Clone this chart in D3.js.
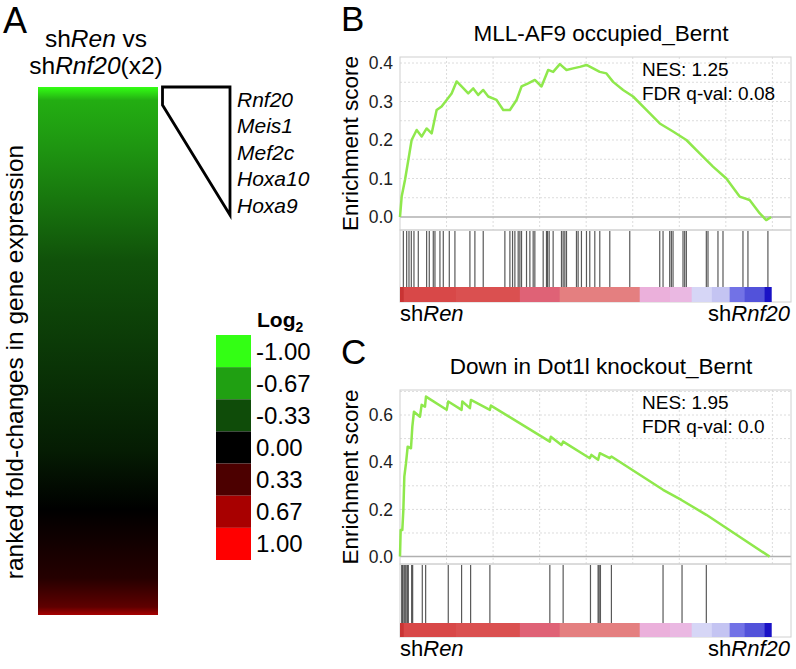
<!DOCTYPE html>
<html>
<head>
<meta charset="utf-8">
<script src="https://cdn.jsdelivr.net/npm/d3@7"></script>
<style>
  body { margin: 0; background: #fff; }
  svg { font-family: "Liberation Sans", Arial, sans-serif; }
</style>
</head>
<body>
<svg id="fig" width="796" height="669"></svg>
<script>
// ---- data ----
var genes = ["Rnf20", "Meis1", "Mef2c", "Hoxa10", "Hoxa9"];
var legendValues = [-1.00, -0.67, -0.33, 0.00, 0.33, 0.67, 1.00];
var legendColors = ["#33ff14", "#20a012", "#0f4c09", "#000000", "#4c0000", "#a80000", "#ff0000"];
// heatmap: position down the ranked list (0..1) and log2 value
var heatPos = [0, 0.025, 0.12, 0.33, 0.69, 0.8, 0.93, 0.985, 1];
var heatVal = [-1, -0.72, -0.62, -0.35, -0.12, 0, 0.16, 0.4, 0.67];

var nGenes = 7975;
// ranked list metric colour bar (start rank of each block)
var barStart = [0, 80, 1200, 2575, 3430, 5150, 5800, 6266, 6700, 7082, 7404, 7833];
var barColors = ["#c93434", "#d84848", "#da5050", "#df6276", "#e47f80", "#ebb0db", "#eab8e2",
                 "#d6d6f6", "#c4c4f2", "#7272e6", "#5252da", "#1a12c6"];

// B: MLL-AF9 occupied_Bernt
var esRankB = [0, 36, 107, 179, 250, 358, 465, 572, 680, 787, 894, 1002, 1109, 1216, 1323, 1466, 1574,
  1681, 1788, 1896, 2074, 2218, 2361, 2504, 2611, 2754, 2897, 3040, 3183, 3290, 3434, 3577, 3720, 3863,
  4006, 4149, 4292, 4435, 4578, 4793, 5007, 5293, 5580, 5866, 6152, 6438, 6724, 7011, 7296, 7511, 7726,
  7868, 7975];
var esValB = [0, 0.053, 0.096, 0.148, 0.2, 0.226, 0.209, 0.23, 0.217, 0.278, 0.287, 0.304, 0.321, 0.352,
  0.339, 0.321, 0.334, 0.317, 0.33, 0.313, 0.304, 0.278, 0.278, 0.304, 0.339, 0.347, 0.356, 0.339, 0.382,
  0.377, 0.397, 0.382, 0.386, 0.39, 0.395, 0.386, 0.377, 0.373, 0.351, 0.33, 0.313, 0.278, 0.243, 0.222,
  0.2, 0.165, 0.131, 0.1, 0.053, 0.044, 0.01, -0.008, 0];
var hitsB = [72, 143, 193, 243, 300, 393, 572, 629, 715, 751, 858, 930, 1059, 1180, 1502, 1609, 1788,
  2253, 2361, 2418, 2468, 2539, 2575, 2611, 2718, 2790, 2861, 2897, 3076, 3147, 3169, 3205, 3290, 3469,
  3505, 3541, 3577, 3791, 3827, 3898, 4006, 4077, 4185, 4292, 4507, 4936, 5580, 5651, 5794, 5830, 5866,
  6080, 6116, 6152, 6581, 6617, 6831, 6939, 7368, 7475, 7904];

// C: Down in Dot1l knockout_Bernt
var esRankC = [0, 14, 50, 72, 93, 129, 165, 236, 265, 300, 429, 465, 537, 558, 1002, 1037, 1323, 1338,
  1502, 1524, 1931, 1953, 3219, 3240, 3469, 3505, 4077, 4113, 4256, 4292, 4507, 4542, 5651, 6045, 6581, 7940];
var esValC = [0, 0.113, 0.113, 0.198, 0.339, 0.396, 0.466, 0.459, 0.551, 0.614, 0.593, 0.643, 0.635,
  0.678, 0.622, 0.657, 0.622, 0.657, 0.629, 0.664, 0.622, 0.64, 0.487, 0.508, 0.473, 0.487, 0.417, 0.431,
  0.41, 0.438, 0.417, 0.424, 0.283, 0.24, 0.177, 0];
var hitsC = [36, 57, 86, 107, 129, 157, 179, 250, 272, 479, 551, 1037, 1323, 1517, 1931, 3219, 3505,
  4092, 4256, 4278, 4306, 4542, 5651, 6059, 6581];

var svg = d3.select("#fig");

// ---- panel A ----
var heatColor = d3.scaleLinear().domain(legendValues).range(legendColors);

svg.append("text").attr("x", 3).attr("y", 33).attr("font-size", 36).text("A");

var hdr = svg.append("text").attr("x", 96).attr("y", 47).attr("font-size", 24.5).attr("text-anchor", "middle");
hdr.append("tspan").text("sh");
hdr.append("tspan").attr("font-style", "italic").text("Ren");
hdr.append("tspan").text(" vs");
var hdr2 = svg.append("text").attr("x", 96).attr("y", 74).attr("font-size", 24.5).attr("text-anchor", "middle");
hdr2.append("tspan").text("sh");
hdr2.append("tspan").attr("font-style", "italic").text("Rnf20");
hdr2.append("tspan").text("(x2)");

var grad = svg.append("defs").append("linearGradient").attr("id", "heat")
  .attr("x1", 0).attr("y1", 0).attr("x2", 0).attr("y2", 1);
grad.selectAll("stop").data(heatPos).enter().append("stop")
  .attr("offset", function(d) { return d; })
  .attr("stop-color", function(d, i) { return heatColor(heatVal[i]); });

svg.append("rect").attr("x", 38).attr("y", 87).attr("width", 120).attr("height", 528)
  .attr("fill", "url(#heat)");

svg.append("text").attr("transform", "translate(23,362) rotate(-90)")
  .attr("font-size", 24.5).attr("text-anchor", "middle")
  .text("ranked fold-changes in gene expression");

svg.append("path").attr("d", "M162.5,87 L230,87 L230,215 L162.5,105 Z")
  .attr("fill", "none").attr("stroke", "#000").attr("stroke-width", 2.8)
  .attr("stroke-linejoin", "miter");

svg.selectAll("text.gene").data(genes).enter().append("text").attr("class", "gene")
  .attr("x", 237).attr("y", function(d, i) { return 107 + i * 26.4; })
  .attr("font-size", 21).attr("font-style", "italic").text(function(d) { return d; });

// legend
var lg = svg.append("text").attr("x", 257).attr("y", 327).attr("font-size", 21).attr("font-weight", "bold");
lg.append("tspan").text("Log");
lg.append("tspan").attr("font-size", 14).attr("dy", 5).text("2");

var sw = d3.scaleBand().domain(legendValues).range([335, 560]);
svg.selectAll("rect.sw").data(legendValues).enter().append("rect").attr("class", "sw")
  .attr("x", 216).attr("y", function(d) { return sw(d); })
  .attr("width", 35).attr("height", sw.bandwidth())
  .attr("fill", function(d, i) { return legendColors[i]; });
svg.selectAll("text.swl").data(legendValues).enter().append("text").attr("class", "swl")
  .attr("x", 256).attr("y", function(d) { return sw(d) + sw.bandwidth() / 2 + 8.5; })
  .attr("font-size", 24).text(function(d) { return d3.format(".2f")(d).replace("−", "-"); });

// ---- GSEA panels ----
var x = d3.scaleLinear().domain([0, 8400]).range([400, 791]);

function gsea(o) {
  var g = svg.append("g");
  var y = d3.scaleLinear().domain(o.yDomain).range([o.esBottom, o.top]);

  g.append("text").attr("x", 341).attr("y", o.top - 26).attr("font-size", 35).text(o.letter);
  g.append("text").attr("x", 601).attr("y", o.top - 16).attr("font-size", 22.5)
    .attr("text-anchor", "middle").text(o.title);

  // grid
  g.selectAll("line.hg").data(d3.range(o.gridStep, o.yDomain[1], o.gridStep)).enter().append("line")
    .attr("x1", x(0)).attr("x2", x(8400))
    .attr("y1", function(d) { return y(d); }).attr("y2", function(d) { return y(d); })
    .attr("stroke", "#dcdcdc").attr("stroke-dasharray", "2,2");
  g.selectAll("line.vg").data(d3.range(1000, 8400, 1000)).enter().append("line")
    .attr("x1", function(d) { return x(d); }).attr("x2", function(d) { return x(d); })
    .attr("y1", o.top).attr("y2", o.esBottom)
    .attr("stroke", "#dcdcdc").attr("stroke-dasharray", "2,2");
  g.append("line").attr("x1", x(0)).attr("x2", x(8400)).attr("y1", y(0)).attr("y2", y(0))
    .attr("stroke", "#b0b0b0").attr("stroke-width", 1.5);

  // frames
  g.append("rect").attr("x", x(0)).attr("y", o.top).attr("width", x(8400) - x(0))
    .attr("height", o.esBottom - o.top).attr("fill", "none").attr("stroke", "#d0d0d0");
  g.append("rect").attr("x", x(0)).attr("y", o.esBottom).attr("width", x(8400) - x(0))
    .attr("height", o.barBottom - o.esBottom).attr("fill", "none").attr("stroke", "#d0d0d0");

  // axis
  var ax = g.append("g").attr("transform", "translate(" + x(0) + ",0)")
    .call(d3.axisLeft(y).tickValues(o.ticks).tickFormat(d3.format(".1f")).tickSize(0).tickPadding(7));
  ax.select(".domain").remove();
  ax.selectAll("text").attr("font-size", 17.5).attr("fill", "#222")
    .attr("font-family", "Liberation Sans, Arial, sans-serif");

  g.append("text").attr("transform", "translate(" + 358 + "," + (o.top + o.esBottom) / 2 + ") rotate(-90)")
    .attr("font-size", 22.5).attr("text-anchor", "middle").text("Enrichment score");

  // hits
  g.selectAll("line.hit").data(o.hits).enter().append("line")
    .attr("x1", function(d) { return x(d); }).attr("x2", function(d) { return x(d); })
    .attr("y1", o.esBottom + 1).attr("y2", o.hitBottom)
    .attr("stroke", "#222").attr("stroke-opacity", 0.75).attr("stroke-width", 1.2);

  // colour bar
  g.selectAll("rect.cb").data(barStart).enter().append("rect")
    .attr("x", function(d) { return x(d); })
    .attr("width", function(d, i) { return x(i < barStart.length - 1 ? barStart[i + 1] : nGenes) - x(d) + 0.5; })
    .attr("y", o.hitBottom).attr("height", o.barBottom - o.hitBottom)
    .attr("fill", function(d, i) { return barColors[i]; });

  // ES line
  var pts = o.rank.map(function(r, i) { return [r, o.es[i]]; });
  g.append("path").datum(pts)
    .attr("d", d3.line().x(function(d) { return x(d[0]); }).y(function(d) { return y(d[1]); }))
    .attr("fill", "none").attr("stroke", "#8fe84c").attr("stroke-width", 2.5)
    .attr("stroke-linejoin", "round");

  g.append("text").attr("x", 642).attr("y", o.top + 19).attr("font-size", 19).text(o.nes);
  g.append("text").attr("x", 642).attr("y", o.top + 43).attr("font-size", 19).text(o.fdr);

  var l1 = g.append("text").attr("x", 400).attr("y", o.barBottom + 19).attr("font-size", 22);
  l1.append("tspan").text("sh");
  l1.append("tspan").attr("font-style", "italic").text("Ren");
  var l2 = g.append("text").attr("x", 790).attr("y", o.barBottom + 19).attr("font-size", 22)
    .attr("text-anchor", "end");
  l2.append("tspan").text("sh");
  l2.append("tspan").attr("font-style", "italic").text("Rnf20");
}

gsea({
  letter: "B", title: "MLL-AF9 occupied_Bernt", top: 57, esBottom: 230, hitBottom: 287, barBottom: 302,
  yDomain: [-0.0338, 0.4156], gridStep: 0.05, ticks: [0, 0.1, 0.2, 0.3, 0.4],
  rank: esRankB, es: esValB, hits: hitsB, nes: "NES: 1.25", fdr: "FDR q-val: 0.08"
});
gsea({
  letter: "C", title: "Down in Dot1l knockout_Bernt", top: 390, esBottom: 564, hitBottom: 623, barBottom: 637,
  yDomain: [-0.0314, 0.706], gridStep: 0.1, ticks: [0, 0.2, 0.4, 0.6],
  rank: esRankC, es: esValC, hits: hitsC, nes: "NES: 1.95", fdr: "FDR q-val: 0.0"
});
</script>
</body>
</html>
